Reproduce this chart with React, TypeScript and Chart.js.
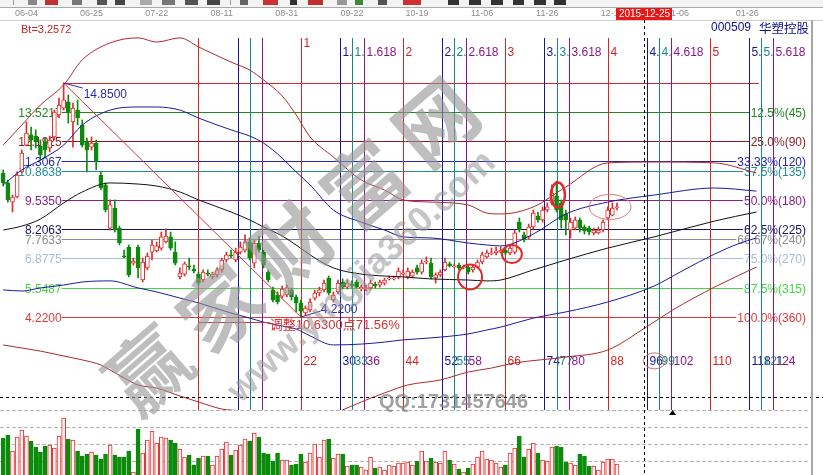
import React, { useEffect, useRef } from 'react';
import { Chart, registerables } from 'chart.js';

Chart.register(...registerables);

// ================= DATA =================
// Daily candles (index 0 = first visible session), prices in CNY
const candleOpen = [
  10.76, 10.31, 9.44, 9.67, 10.81, 12.03, 12.49, 12.44, 11.99, 12.17,
  11.90, 12.40, 13.40, 13.71, 13.99, 13.08, 13.62, 12.94, 12.17, 11.94,
  12.12, 10.67, 10.22, 8.26, 9.17, 8.26, 6.99, 7.40, 6.67, 7.40,
  5.90, 6.45, 7.17, 7.22, 7.35, 7.63, 7.86, 7.17, 6.04, 6.17,
  6.54, 6.40, 6.17, 5.90, 6.22, 6.04, 6.13, 6.36, 6.81, 7.04,
  6.81, 7.17, 7.26, 7.63, 6.67, 7.58, 7.17, 6.26, 5.45, 5.22,
  5.17, 5.22, 5.45, 5.13, 4.86, 4.40, 4.54, 5.08, 5.31, 5.45,
  5.99, 4.99, 5.36, 5.81, 5.58, 5.72, 5.81, 5.49, 5.49, 5.54,
  5.72, 5.67, 5.76, 5.95, 5.95, 6.04, 6.17, 6.04, 6.08, 6.45,
  6.26, 6.72, 6.67, 5.99, 6.13, 6.36, 6.63, 6.49, 6.58, 6.45,
  6.49, 6.36, 6.49, 6.72, 6.95, 7.08, 7.13, 7.17, 7.26, 7.13,
  7.17, 8.53, 7.95, 7.86, 8.31, 8.81, 8.63, 9.08, 9.40, 9.72,
  9.40, 8.90, 8.17, 8.26, 8.63, 8.31, 8.26, 8.04, 8.04, 8.17,
  8.72, 8.85, 9.17,
];
const candleClose = [
  10.31, 9.54, 9.67, 10.67, 11.67, 12.58, 12.26, 12.17, 11.58, 11.81,
  12.26, 13.53, 13.85, 14.08, 13.53, 13.71, 13.26, 12.03, 11.81, 12.12,
  11.26, 10.08, 9.08, 9.31, 8.17, 7.58, 6.95, 6.13, 6.76, 6.45,
  6.72, 6.99, 7.49, 7.45, 7.86, 7.90, 7.35, 6.67, 6.22, 6.63,
  6.49, 6.31, 5.76, 6.26, 6.17, 6.17, 6.36, 6.81, 7.04, 6.99,
  7.17, 7.40, 7.63, 6.90, 7.58, 7.26, 6.58, 5.90, 4.99, 4.90,
  5.49, 5.54, 5.13, 4.86, 4.49, 4.63, 4.90, 5.31, 5.45, 5.76,
  5.31, 5.22, 5.76, 5.58, 5.76, 5.63, 5.58, 5.58, 5.54, 5.76,
  5.63, 5.81, 5.90, 5.99, 5.99, 6.31, 6.22, 6.31, 6.26, 6.26,
  6.67, 6.76, 6.04, 6.13, 6.26, 6.72, 6.54, 6.54, 6.45, 6.49,
  6.26, 6.49, 6.72, 7.04, 7.13, 7.13, 7.22, 7.26, 7.13, 7.35,
  8.04, 8.17, 7.72, 8.31, 8.94, 8.63, 9.08, 9.22, 9.85, 9.08,
  8.63, 8.63, 8.53, 8.63, 8.26, 8.13, 8.08, 8.17, 8.17, 8.53,
  9.08, 9.17, 9.22,
];
const candleHigh = [
  10.90, 10.44, 9.76, 10.81, 11.81, 13.08, 12.85, 12.72, 12.26, 12.35,
  12.44, 13.62, 14.17, 14.85, 14.31, 13.94, 14.08, 13.17, 12.35, 12.40,
  12.26, 10.81, 10.31, 9.54, 9.54, 8.35, 7.26, 7.49, 6.90, 7.49,
  6.90, 7.13, 7.72, 7.63, 8.08, 8.22, 8.08, 7.63, 6.45, 6.72,
  6.90, 6.58, 6.26, 6.36, 6.36, 6.26, 6.45, 6.90, 7.17, 7.26,
  7.35, 7.63, 7.95, 7.81, 7.72, 7.90, 7.26, 6.36, 5.58, 5.36,
  5.63, 5.67, 5.54, 5.22, 4.99, 4.72, 5.04, 5.45, 5.58, 5.90,
  6.08, 5.36, 5.90, 5.95, 5.90, 5.86, 5.90, 5.67, 5.67, 5.90,
  5.81, 5.90, 5.99, 6.08, 6.08, 6.45, 6.36, 6.45, 6.36, 6.58,
  6.81, 6.95, 6.90, 6.22, 6.36, 6.90, 6.72, 6.63, 6.67, 6.58,
  6.58, 6.58, 6.81, 7.17, 7.26, 7.35, 7.40, 7.40, 7.35, 7.49,
  8.17, 8.72, 8.08, 8.44, 9.08, 8.99, 9.22, 9.40, 10.22, 10.39,
  9.54, 9.08, 8.72, 8.76, 8.72, 8.40, 8.35, 8.26, 8.31, 8.63,
  9.22, 9.40, 9.40,
];
const candleLow = [
  10.17, 9.44, 8.99, 9.63, 10.76, 11.99, 11.81, 11.90, 11.35, 11.44,
  11.72, 12.26, 13.26, 13.62, 13.03, 11.94, 12.94, 11.94, 10.81, 11.81,
  10.90, 9.99, 8.99, 8.17, 8.08, 7.49, 6.90, 6.04, 6.58, 5.99,
  5.81, 6.36, 6.81, 7.17, 7.26, 7.58, 7.26, 6.58, 5.95, 6.08,
  6.36, 6.22, 5.67, 5.81, 6.08, 5.95, 6.04, 6.26, 6.72, 6.90,
  6.72, 7.08, 7.17, 6.81, 6.45, 7.17, 6.45, 5.81, 4.90, 4.81,
  5.08, 5.13, 4.99, 4.45, 4.22, 4.31, 4.45, 4.99, 5.17, 5.36,
  5.22, 4.90, 5.27, 5.49, 5.49, 5.54, 5.54, 5.40, 5.40, 5.45,
  5.54, 5.58, 5.67, 5.90, 5.90, 5.95, 6.13, 5.95, 5.99, 6.17,
  6.17, 6.63, 5.95, 5.76, 6.04, 6.31, 6.49, 6.45, 6.36, 6.40,
  6.17, 6.26, 6.45, 6.63, 6.90, 7.04, 7.04, 7.13, 7.04, 7.04,
  7.08, 8.08, 7.63, 7.76, 8.22, 8.53, 8.53, 8.99, 9.31, 8.99,
  8.26, 7.95, 7.81, 8.17, 8.08, 7.99, 7.95, 7.95, 7.99, 8.08,
  8.63, 8.81, 9.08,
];
// Volume (万手)
const volume = [
  40, 43, 27, 41, 48, 42, 37, 31, 26, 32,
  33, 30, 42, 60, 39, 38, 27, 22, 24, 26,
  23, 19, 24, 33, 23, 21, 21, 27, 6, 49,
  25, 38, 47, 35, 41, 40, 38, 35, 29, 21,
  23, 13, 20, 22, 22, 13, 22, 29, 36, 23,
  28, 33, 39, 37, 45, 41, 25, 24, 17, 25,
  18, 18, 13, 14, 24, 16, 25, 34, 21, 38,
  39, 20, 24, 24, 12, 13, 13, 11, 8, 21,
  10, 11, 8, 13, 12, 15, 15, 16, 13, 17,
  27, 17, 20, 16, 15, 27, 18, 14, 9, 6,
  10, 14, 21, 27, 19, 18, 15, 11, 13, 25,
  30, 42, 21, 29, 35, 25, 18, 17, 31, 32,
  31, 16, 15, 13, 24, 22, 12, 12, 8, 16,
  19, 19, 14,
];
const volumeGridTicks = [17, 34, 51, 68];

// Indicator curves, sampled at bar indices
const bandIndex = [0, 4, 8, 13, 17, 23, 29, 33, 38, 42, 49, 53, 56, 60, 63, 66, 71, 77, 82, 86, 92, 100, 104, 107, 114, 121, 130, 140, 153, 162];
const bollUpper = [12.03, 12.94, 13.85, 14.76, 15.90, 16.67, 16.90, 16.71, 16.90, 16.49, 15.80, 15.44, 14.99, 14.26, 13.40, 12.40, 11.49, 10.44, 9.99, 9.54, 9.44, 9.31, 8.94, 8.90, 9.22, 10.13, 11.22, 11.26, 11.22, 10.76];
const envUpper = [10.22, 10.90, 11.35, 12.03, 12.94, 13.62, 13.76, 13.76, 13.62, 13.26, 12.72, 12.44, 12.12, 11.44, 10.81, 10.22, 9.08, 8.53, 8.17, 7.86, 7.81, 7.58, 7.49, 7.45, 7.99, 8.90, 9.44, 9.76, 10.08, 9.94];
const maMid = [8.17, 8.35, 8.67, 9.40, 9.90, 10.31, 10.26, 10.17, 9.90, 9.54, 8.99, 8.63, 8.31, 7.90, 7.49, 7.04, 6.45, 6.17, 6.08, 6.04, 5.95, 5.90, 5.86, 5.90, 6.36, 6.81, 7.35, 7.86, 8.58, 8.99];
const envLowerIndex = [0, 4, 8, 13, 17, 23, 29, 33, 38, 42, 49, 53, 56, 60, 63, 66, 71, 77, 82, 86, 92, 100, 104, 107, 114, 121, 130, 140, 146, 153, 158, 162];
const envLower = [5.45, 5.40, 5.54, 5.67, 5.81, 5.86, 5.54, 5.36, 5.08, 4.86, 4.40, 4.17, 3.99, 3.81, 3.67, 3.36, 2.95, 2.99, 3.08, 3.18, 3.27, 3.45, 3.63, 3.76, 4.17, 4.45, 4.90, 5.63, 6.31, 7.08, 7.54, 7.81];
const bollLowerIndex = [0, 4, 8, 13, 17, 21, 23, 26, 29, 33, 38, 42, 47, 51, 55, 60, 66, 71, 73, 77, 82, 87, 94, 100, 105, 110, 121, 130, 138, 144, 153, 162];
const bollLower = [2.95, 2.81, 2.67, 2.45, 2.27, 2.04, 1.81, 1.45, 1.13, 0.99, 0.63, 0.36, 0.04, -0.05, -0.23, -0.37, -0.46, -0.19, 0.00, 0.36, 0.77, 1.13, 1.36, 1.72, 1.90, 2.13, 2.40, 2.72, 3.72, 4.54, 5.58, 6.49];

// Golden-section price levels (high 14.85 -> low 4.22)
const fibPrices = [14.85, 13.5217, 12.1925, 11.3067, 10.8638, 9.535, 8.2063, 7.7633, 6.8775, 5.5487, 4.22];
const fibPriceLabels = ['', '13.5217', '12.1925', '11.3067', '10.8638', '9.5350', '8.2063', '7.7633', '6.8775', '5.5487', '4.2200'];
const fibPctLabels = ['', '12.5%(45)', '25.0%(90)', '33.33%(120)', '37.5%(135)', '50.0%(180)', '62.5%(225)', '66.67%(240)', '75.0%(270)', '87.5%(315)', '100.0%(360)'];
const fibHighIndex = 13;
const fibLowIndex = 64;
const fibLineEndIndex = 162.5;

// Fibonacci time zones (bars after the base bar)
const timeBaseIndex = 42;
const timeOffsets = [0, 8.4, 11, 13.6, 22, 30.4, 33, 35.6, 44, 52.4, 55, 57.6, 66, 74.4, 77, 79.6, 88, 96.4, 99, 101.6, 110, 118.4, 121, 123.6];
const timeTopLabels = ['', '', '', '', '1', '1.', '1.', '1.618', '2', '2.', '2.', '2.618', '3', '3.', '3.', '3.618', '4', '4.', '4.', '4.618', '5', '5.', '5.', '5.618'];
const timeBottomLabels = ['', '', '', '', '22', '30', '33', '36', '44', '52', '55', '58', '66', '74', '77', '80', '88', '96', '99', '102', '110', '118', '121', '124'];

// Date axis
const dateTickIndex = [5, 19, 33, 47, 61, 75, 89, 103, 117, 131, 145, 160];
const dateTickLabel = ['06-04', '06-25', '07-22', '08-11', '08-31', '09-22', '10-19', '11-06', '11-26', '12-15', '01-06', '01-26'];

// Cursor and marks
const cursorIndex = 137.8;
const cursorPrice = 0.59;
const cursorDate = '2015-12-25';
const markIndex = [100.4, 109.4, 119.3, 130.5];
const markPrice = [6.04, 7.08, 9.76, 9.22];

// ================= STYLE =================
const FONT = '"Liberation Sans", Arial, sans-serif';
const CJK = '"Noto Sans CJK SC", "Noto Sans CJK TC", sans-serif';
const UP = '#e42a2a';
const DOWN = '#0a8c0a';
const fibColors = ['#e02424', '#1f8a1f', '#8c1c1c', '#2424b8', '#1f8f8f', '#8a1f8a', '#16165e', '#8c8c8c', '#a8bcd2', '#44d444', '#e03a3a'];
const timeColors = ['#d42424', '#161690', '#168a8a', '#8a168a'];
const markStyle = [
  { rx: 12, ry: 12.5, w: 2, c: '#e42828' },
  { rx: 10, ry: 9, w: 2, c: '#e42828' },
  { rx: 7, ry: 12.5, w: 2.5, c: '#e42828' },
  { rx: 21, ry: 12.5, w: 1, c: '#e07a7a' },
];
const toolbarIcons: [number, number, string][] = [
  [13, 1, '#999'], [28, 9, '#888'], [45, 13, '#c43030'], [72, 10, '#777'], [97, 10, '#555'],
  [115, 10, '#444'], [140, 12, '#aaa'], [162, 13, '#777'], [185, 13, '#555'], [207, 13, '#444'],
  [230, 1, '#999'], [240, 8, '#666'], [263, 15, '#d03030'], [290, 7, '#333'], [308, 15, '#c03030'],
  [337, 10, '#999'], [355, 8, '#3a8a3a'], [378, 9, '#555'], [403, 8, '#d03030'], [411, 10, '#d03030'],
  [448, 11, '#333'], [469, 12, '#333'], [491, 12, '#333'], [513, 11, '#333'], [534, 12, '#333'], [554, 12, '#333'],
];

const X_MIN = -0.688;
const X_MAX = 173.72;
const PRICE_MIN = -2.958;
const PRICE_MAX = 17.712;
const VOL_MIN = 3;
const VOL_MAX = 458;

function hline(ctx: CanvasRenderingContext2D, x0: number, x1: number, y: number) {
  ctx.beginPath(); ctx.moveTo(x0, y); ctx.lineTo(x1, y); ctx.stroke();
}
function vline(ctx: CanvasRenderingContext2D, x: number, y0: number, y1: number) {
  ctx.beginPath(); ctx.moveTo(x, y0); ctx.lineTo(x, y1); ctx.stroke();
}
const isUp = (i: number) => candleClose[i] >= candleOpen[i];

const bgPlugin = {
  id: 'bgLayer',
  beforeDraw(chart: any) {
    const { ctx, width, height } = chart;
    ctx.save();
    ctx.fillStyle = '#ffffff';
    ctx.fillRect(0, 0, width, height);
    ctx.fillStyle = '#f3f3f3';
    ctx.fillRect(0, 0, width, 7);
    toolbarIcons.forEach(([x, w, c]) => { ctx.fillStyle = c; ctx.fillRect(x, 0, w, 5); });
    ctx.lineWidth = 1;
    ctx.strokeStyle = '#a8a8a8';
    hline(ctx, 0, width, 7.5);
    ctx.strokeStyle = '#cfcfcf';
    hline(ctx, 0, width, 20.5);
    ctx.restore();
  },
  beforeDatasetsDraw(chart: any) {
    const { ctx, chartArea: area } = chart;
    const xs = chart.scales.x, ys = chart.scales.y, vs = chart.scales.yv;
    ctx.save();
    // date labels
    ctx.font = `9px ${FONT}`;
    ctx.fillStyle = '#8c8c8c';
    ctx.textAlign = 'center';
    ctx.textBaseline = 'middle';
    dateTickIndex.forEach((di, k) => ctx.fillText(dateTickLabel[k], xs.getPixelForValue(di), 14));

    // golden section horizontal levels
    ctx.lineWidth = 1;
    ctx.font = `12px ${FONT}`;
    const xStart = xs.getPixelForValue(fibHighIndex) - 2;
    const labelRight = area.right - 5;
    fibPrices.forEach((p, k) => {
      const y = Math.round(ys.getPixelForValue(p)) + 0.5;
      const pct = fibPctLabels[k];
      const xEnd = pct ? labelRight - ctx.measureText(pct).width - 1 : xs.getPixelForValue(fibLineEndIndex);
      ctx.strokeStyle = fibColors[k];
      hline(ctx, k === 0 ? xs.getPixelForValue(fibHighIndex) : xStart, xEnd, y);
      ctx.fillStyle = fibColors[k];
      ctx.textAlign = 'right';
      if (pct) ctx.fillText(pct, labelRight, y + 1);
      if (fibPriceLabels[k]) ctx.fillText(fibPriceLabels[k], xStart, y + 1);
    });

    // fibonacci time lines
    const paneBottom = Math.round(ys.getPixelForValue(0));
    const yTop = area.top + 18;
    ctx.textAlign = 'left';
    timeOffsets.forEach((off, k) => {
      const x = Math.round(xs.getPixelForValue(timeBaseIndex + off)) + 0.5;
      const col = timeColors[k % 4];
      ctx.strokeStyle = col;
      vline(ctx, x, yTop, paneBottom);
      ctx.fillStyle = col;
      if (timeTopLabels[k]) ctx.fillText(timeTopLabels[k], x + 2, k === 4 ? area.top + 24 : area.top + 33);
      if (timeBottomLabels[k]) ctx.fillText(timeBottomLabels[k], x + 2, paneBottom - 48);
    });

    // volume pane dashed grid
    ctx.strokeStyle = '#b4b4b4';
    ctx.setLineDash([4, 2]);
    volumeGridTicks.forEach((v) => {
      const y = Math.round(vs.getPixelForValue(v)) + 0.5;
      hline(ctx, 0, area.right - 3, y);
    });
    ctx.setLineDash([]);
    ctx.restore();
  },
};

const overlayPlugin = {
  id: 'overlayLayer',
  afterDatasetsDraw(chart: any) {
    const { ctx, chartArea: area, width } = chart;
    const xs = chart.scales.x, ys = chart.scales.y;
    ctx.save();
    ctx.lineWidth = 1;
    const hx = xs.getPixelForValue(fibHighIndex), hy = ys.getPixelForValue(fibPrices[0]);
    const lx = xs.getPixelForValue(fibLowIndex), ly = ys.getPixelForValue(fibPrices[10]);
    // diagonal high -> low
    ctx.strokeStyle = '#d03a3a';
    ctx.beginPath(); ctx.moveTo(hx, hy); ctx.lineTo(lx, ly); ctx.stroke();
    // adjustment base line
    const adjY = Math.round(ly + 5) + 0.5;
    hline(ctx, xs.getPixelForValue(timeBaseIndex), lx - 31, adjY);
    // leaders
    ctx.strokeStyle = '#2b2ba8';
    ctx.beginPath(); ctx.moveTo(hx, hy); ctx.lineTo(hx + 19, hy + 5); ctx.stroke();
    ctx.beginPath(); ctx.moveTo(lx, ly); ctx.lineTo(lx + 20, ly - 6); ctx.stroke();
    ctx.font = `12px ${FONT}`;
    ctx.textBaseline = 'middle';
    ctx.textAlign = 'left';
    ctx.fillStyle = '#2b2ba8';
    ctx.fillText('14.8500', hx + 20, hy + 12);
    ctx.fillText('4.2200', lx + 20, ly - 7);
    ctx.fillStyle = '#d83030';
    ctx.font = `13px ${FONT}, ${CJK}`;
    ctx.fillText('调整10.6300点71.56%', lx - 31, ly + 8);

    // red marks
    markIndex.forEach((mi, k) => {
      const s = markStyle[k];
      ctx.strokeStyle = s.c; ctx.lineWidth = s.w;
      ctx.beginPath();
      ctx.ellipse(xs.getPixelForValue(mi), ys.getPixelForValue(markPrice[k]), s.rx, s.ry, 0, 0, Math.PI * 2);
      ctx.stroke();
    });
    // mark around label "96"
    {
      const k = timeBottomLabels.indexOf('96');
      const x = Math.round(xs.getPixelForValue(timeBaseIndex + timeOffsets[k])) + 0.5;
      ctx.strokeStyle = '#d86a6a'; ctx.lineWidth = 1;
      ctx.beginPath();
      ctx.ellipse(x + 7, ys.getPixelForValue(0) - 49, 11, 8, 0, 0, Math.PI * 2);
      ctx.stroke();
    }

    // crosshair
    ctx.lineWidth = 1;
    ctx.strokeStyle = '#000';
    ctx.setLineDash([3, 3]);
    const cx = Math.round(xs.getPixelForValue(cursorIndex)) + 0.5;
    vline(ctx, cx, area.top, area.bottom);
    const cy = Math.round(ys.getPixelForValue(cursorPrice)) + 0.5;
    hline(ctx, 0, width, cy);
    ctx.setLineDash([]);
    // date box
    ctx.fillStyle = '#e81818';
    ctx.fillRect(cx - 28.5, 8, 56, 12);
    ctx.fillStyle = '#ffffff';
    ctx.font = `10px ${FONT}`;
    ctx.textAlign = 'center';
    ctx.fillText(cursorDate, cx, 14.5);

    // small triangle at foot of 4.618 line
    {
      const k = timeTopLabels.indexOf('4.618');
      const tx = Math.round(xs.getPixelForValue(timeBaseIndex + timeOffsets[k])) + 1.5;
      const ty = ys.getPixelForValue(0);
      ctx.fillStyle = '#000';
      ctx.beginPath(); ctx.moveTo(tx, ty); ctx.lineTo(tx - 3.5, ty + 5); ctx.lineTo(tx + 3.5, ty + 5); ctx.closePath(); ctx.fill();
    }

    // right border
    ctx.fillStyle = '#a6a6a6';
    ctx.fillRect(area.right, area.top, 2, area.bottom - area.top);

    // header texts
    ctx.textAlign = 'left';
    ctx.fillStyle = '#cc2020';
    ctx.font = `11px ${FONT}`;
    ctx.fillText('Bt=3.2572', 21, 30);
    ctx.fillStyle = '#10108a';
    ctx.font = `12px ${FONT}`;
    ctx.fillText('000509', 711, 28);
    ctx.font = `12.5px ${CJK}`;
    ctx.fillText('华塑控股', 759, 28);

    // watermark
    ctx.fillStyle = 'rgba(150,150,150,0.62)';
    ctx.font = `bold 80px ${CJK}`;
    ctx.textAlign = 'center';
    const wm = ['赢', '家', '财', '富', '网'];
    wm.forEach((ch, k) => {
      ctx.save();
      ctx.translate(148 + k * 72, 370 - k * 62);
      ctx.rotate(-41 * Math.PI / 180);
      ctx.fillText(ch, 0, 0);
      ctx.restore();
    });
    ctx.save();
    ctx.fillStyle = 'rgba(150,150,150,0.55)';
    ctx.font = `bold 36px ${FONT}`;
    ctx.translate(362, 277);
    ctx.rotate(-43 * Math.PI / 180);
    ctx.fillText('www.yingjia360.com', 0, 0);
    ctx.restore();
    ctx.fillStyle = 'rgba(130,130,130,0.75)';
    ctx.font = `bold 20px ${FONT}`;
    ctx.textAlign = 'left';
    ctx.fillText('QQ:1731457646', 379, 402);
    ctx.restore();
  },
};

export default function App() {
  const ref = useRef<HTMLCanvasElement>(null);
  useEffect(() => {
    const canvas = ref.current;
    if (!canvas) return;
    const idx = candleOpen.map((_, i) => i);
    const pts = (ix: number[], v: number[]) => ix.map((x, k) => ({ x, y: v[k] }));
    const lineClip = { left: 0, top: 0, right: 0, bottom: -65 };
    const lineDs = (data: any[], color: string) => ({
      type: 'line', data, borderColor: color, borderWidth: 1, pointRadius: 0, fill: false,
      cubicInterpolationMode: 'monotone', xAxisID: 'x', yAxisID: 'y', order: 0, clip: lineClip,
    });
    const chart = new Chart(canvas, {
      type: 'bar',
      data: {
        datasets: [
          {
            type: 'bar',
            data: idx.map((i) => ({ x: i, y: [candleLow[i], candleHigh[i]] })),
            backgroundColor: (c: any) => (isUp(c.dataIndex) ? UP : DOWN),
            borderWidth: 0,
            barThickness: 1,
            grouped: false,
            xAxisID: 'x', yAxisID: 'y',
            order: 3,
          },
          {
            type: 'bar',
            data: idx.map((i) => ({ x: i, y: [candleOpen[i], candleClose[i]] })),
            backgroundColor: (c: any) => (isUp(c.dataIndex) ? '#ffffff' : DOWN),
            borderColor: (c: any) => (isUp(c.dataIndex) ? UP : DOWN),
            borderWidth: 1,
            borderSkipped: false,
            minBarLength: 1,
            barThickness: 4,
            grouped: false,
            xAxisID: 'x', yAxisID: 'y',
            order: 2,
          },
          {
            type: 'bar',
            data: idx.map((i) => ({ x: i, y: volume[i] })),
            backgroundColor: (c: any) => (isUp(c.dataIndex) ? '#fff2f2' : DOWN),
            borderColor: (c: any) => (isUp(c.dataIndex) ? '#e03434' : DOWN),
            borderWidth: 1,
            borderSkipped: false,
            barThickness: 4,
            grouped: false,
            xAxisID: 'x', yAxisID: 'yv',
            order: 2,
          },
          lineDs(pts(bandIndex, bollUpper), '#b02a2a'),
          lineDs(pts(bandIndex, envUpper), '#1a1aa0'),
          lineDs(pts(bandIndex, maMid), '#111111'),
          lineDs(pts(envLowerIndex, envLower), '#1a1aa0'),
          lineDs(pts(bollLowerIndex, bollLower), '#b02a2a'),
        ] as any,
      },
      options: {
        responsive: false,
        animation: false,
        devicePixelRatio: 1,
        events: [],
        layout: { padding: { left: 0, top: 20, right: 12, bottom: 0 } },
        plugins: { legend: { display: false }, tooltip: { enabled: false }, title: { display: false } },
        scales: {
          x: { type: 'linear', min: X_MIN, max: X_MAX, bounds: 'data', offset: false, display: false, grid: { display: false } },
          y: { type: 'linear', min: PRICE_MIN, max: PRICE_MAX, bounds: 'data', display: false },
          yv: { type: 'linear', min: VOL_MIN, max: VOL_MAX, bounds: 'data', display: false, position: 'right' },
        },
      } as any,
      plugins: [bgPlugin, overlayPlugin],
    });
    return () => chart.destroy();
  }, []);
  return (
    <div style={{ position: 'fixed', left: 0, top: 0, width: 823, height: 475, background: '#fff' }}>
      <canvas ref={ref} width={823} height={475} style={{ display: 'block', width: 823, height: 475 }} />
    </div>
  );
}
